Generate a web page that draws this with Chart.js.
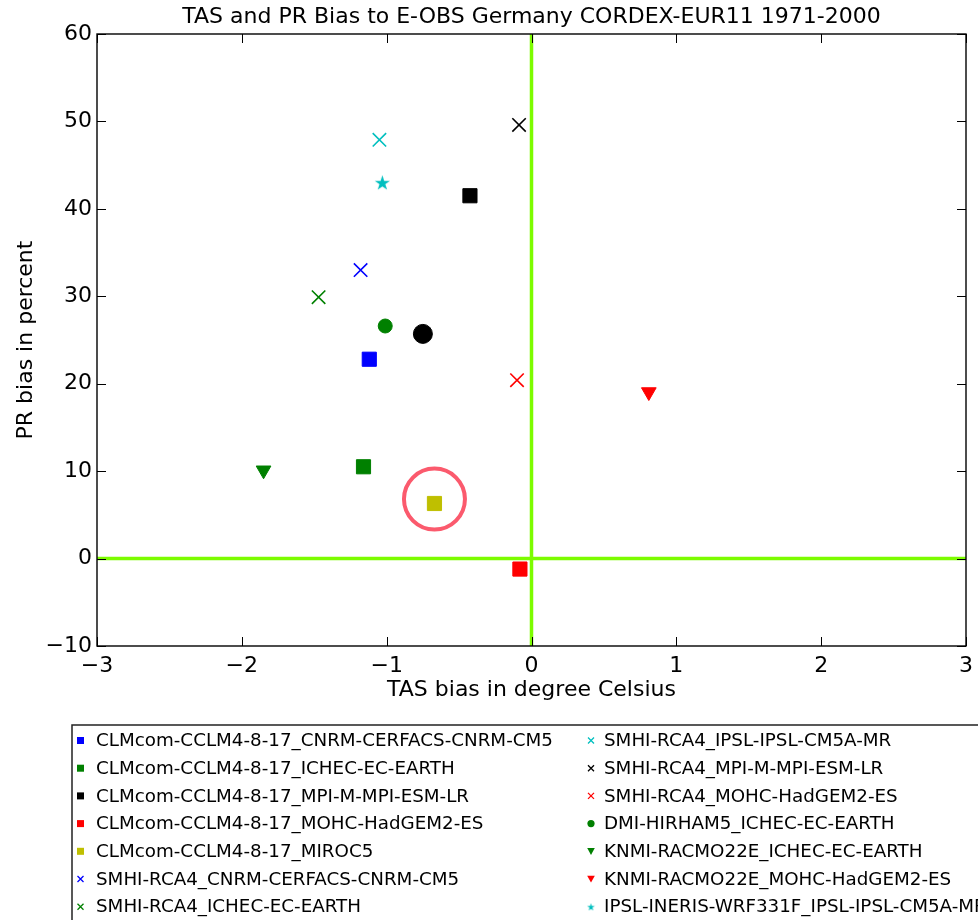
<!DOCTYPE html>
<html>
<head>
<meta charset="utf-8">
<title>TAS and PR Bias</title>
<script src="https://cdn.jsdelivr.net/npm/chart.js@4.4.1/dist/chart.umd.min.js"></script>
<style>
  html, body { margin: 0; padding: 0; background: #fff; }
  #wrap { width: 978px; height: 920px; }
</style>
</head>
<body>
<div id="wrap"><canvas id="biasChart" width="978" height="920"></canvas></div>
<script>
// ---------------------------------------------------------------
// model runs, bias values and marker styles
// ---------------------------------------------------------------
const modelNames = [
  'CLMcom-CCLM4-8-17_CNRM-CERFACS-CNRM-CM5',
  'CLMcom-CCLM4-8-17_ICHEC-EC-EARTH',
  'CLMcom-CCLM4-8-17_MPI-M-MPI-ESM-LR',
  'CLMcom-CCLM4-8-17_MOHC-HadGEM2-ES',
  'CLMcom-CCLM4-8-17_MIROC5',
  'SMHI-RCA4_CNRM-CERFACS-CNRM-CM5',
  'SMHI-RCA4_ICHEC-EC-EARTH',
  'SMHI-RCA4_IPSL-IPSL-CM5A-MR',
  'SMHI-RCA4_MPI-M-MPI-ESM-LR',
  'SMHI-RCA4_MOHC-HadGEM2-ES',
  'DMI-HIRHAM5_ICHEC-EC-EARTH',
  'KNMI-RACMO22E_ICHEC-EC-EARTH',
  'KNMI-RACMO22E_MOHC-HadGEM2-ES',
  'IPSL-INERIS-WRF331F_IPSL-IPSL-CM5A-MR'
];
const tasBias = [-1.12, -1.16, -0.425, -0.08, -0.67, -1.18, -1.47, -1.05, -0.086, -0.10, -1.01, -1.85, 0.81, -1.03];
const prBias  = [22.8, 10.5, 41.5, -1.2, 6.3, 33.0, 29.9, 47.9, 49.6, 20.4, 26.6, 10.1, 19.05, 43.0];
const modelColors = ['#0000ff', '#008000', '#000000', '#ff0000', '#bfbf00',
                     '#0000ff', '#008000', '#00bfbf', '#000000', '#ff0000',
                     '#008000', '#008000', '#ff0000', '#00bfbf'];
const modelMarkers = ['s', 's', 's', 's', 's', 'x', 'x', 'x', 'x', 'x', 'o', 'v', 'v', '*'];

// ensemble mean (big black dot)
const ensembleTas = -0.75;
const ensemblePr = 25.7;

// highlighted run (ring)
const highlightTas = -0.67;
const highlightPr = 6.8;

const xTicks = [-3, -2, -1, 0, 1, 2, 3];
const yTicks = [-10, 0, 10, 20, 30, 40, 50, 60];

const FONT = 'DejaVu Sans';

// filled 5-point star as a little canvas, used as a point style
function makeStar(size, color) {
  const c = document.createElement('canvas');
  c.width = size; c.height = size;
  const g = c.getContext('2d');
  const R = size / 2 - 0.5, r = R * 0.382, cx = size / 2, cy = size / 2 + 0.6;
  g.beginPath();
  for (let i = 0; i < 10; i++) {
    const a = -Math.PI / 2 + i * Math.PI / 5;
    const rr = i % 2 === 0 ? R : r;
    g.lineTo(cx + Math.cos(a) * rr, cy + Math.sin(a) * rr);
  }
  g.closePath();
  g.fillStyle = color;
  g.fill();
  return c;
}

function markerStyle(m, color) {
  switch (m) {
    case 's': return { pointStyle: 'rect', pointRadius: 10, borderWidth: 1 };
    case 'x': return { pointStyle: 'crossRot', pointRadius: 9.5, borderWidth: 1.6 };
    case 'o': return { pointStyle: 'circle', pointRadius: 7, borderWidth: 1 };
    case 'v': return { pointStyle: 'triangle', pointRadius: 8.5, borderWidth: 1, rotation: 180 };
    case '*': return { pointStyle: makeStar(17, color), pointRadius: 8, borderWidth: 0 };
  }
}

const datasets = modelNames.map((name, i) => {
  const st = markerStyle(modelMarkers[i], modelColors[i]);
  return {
    label: name,
    data: [{ x: tasBias[i], y: prBias[i] }],
    pointStyle: st.pointStyle,
    pointRadius: st.pointRadius,
    pointRotation: st.rotation || 0,
    pointBorderWidth: st.borderWidth,
    backgroundColor: modelColors[i],
    borderColor: modelColors[i]
  };
});

datasets.push({
  label: 'ensemble mean',
  data: [{ x: ensembleTas, y: ensemblePr }],
  pointStyle: 'circle',
  pointRadius: 9.5,
  pointBorderWidth: 1,
  backgroundColor: '#000000',
  borderColor: '#000000'
});

datasets.push({
  label: 'highlight',
  data: [{ x: highlightTas, y: highlightPr }],
  pointStyle: 'circle',
  pointRadius: 30.5,
  pointBorderWidth: 4,
  backgroundColor: 'rgba(0,0,0,0)',
  borderColor: '#fb5a6d'
});

const minus = v => String(v).replace('-', '\u2212');

// ---------------------------------------------------------------
// zero lines, framed axes with inward ticks, two-column legend
// ---------------------------------------------------------------
function drawLegendMarker(ctx, m, color, x, y) {
  ctx.save();
  ctx.fillStyle = color;
  ctx.strokeStyle = color;
  ctx.beginPath();
  if (m === 's') {
    ctx.fillRect(x - 3.5, y - 3.5, 7, 7);
  } else if (m === 'x') {
    ctx.lineWidth = 1.3;
    ctx.moveTo(x - 3, y - 3); ctx.lineTo(x + 3, y + 3);
    ctx.moveTo(x + 3, y - 3); ctx.lineTo(x - 3, y + 3);
    ctx.stroke();
  } else if (m === 'o') {
    ctx.arc(x, y, 3.6, 0, Math.PI * 2);
    ctx.fill();
  } else if (m === 'v') {
    ctx.moveTo(x - 3.8, y - 3.2); ctx.lineTo(x + 3.8, y - 3.2); ctx.lineTo(x, y + 3.6);
    ctx.closePath();
    ctx.fill();
  } else if (m === '*') {
    const s = makeStar(9, color);
    ctx.drawImage(s, x - 4.5, y - 4.5);
  }
  ctx.restore();
}

const framePlugin = {
  id: 'frame',
  beforeDatasetsDraw(chart) {
    const { ctx, chartArea: a, scales: { x, y } } = chart;
    ctx.save();
    ctx.strokeStyle = '#7cfc00';
    ctx.lineWidth = 3.5;
    const x0 = x.getPixelForValue(0), y0 = y.getPixelForValue(0);
    ctx.beginPath();
    ctx.moveTo(x0, a.top); ctx.lineTo(x0, a.bottom);
    ctx.moveTo(a.left, y0); ctx.lineTo(a.right, y0);
    ctx.stroke();
    ctx.restore();
  },
  afterDatasetsDraw(chart) {
    const { ctx, chartArea: a, scales: { x, y } } = chart;
    ctx.save();
    ctx.strokeStyle = '#000';
    ctx.lineWidth = 1;
    ctx.beginPath();
    xTicks.forEach(v => {
      const px = Math.round(x.getPixelForValue(v)) + 0.5;
      ctx.moveTo(px, a.bottom); ctx.lineTo(px, a.bottom - 9);
      ctx.moveTo(px, a.top); ctx.lineTo(px, a.top + 9);
    });
    yTicks.forEach(v => {
      const py = Math.round(y.getPixelForValue(v)) + 0.5;
      ctx.moveTo(a.left, py); ctx.lineTo(a.left + 9, py);
      ctx.moveTo(a.right, py); ctx.lineTo(a.right - 9, py);
    });
    ctx.stroke();
    ctx.lineWidth = 1.4;
    ctx.strokeRect(a.left, a.top, a.right - a.left, a.bottom - a.top);
    ctx.restore();
  },
  afterDraw(chart) {
    const ctx = chart.ctx;
    ctx.save();
    ctx.fillStyle = '#fff';
    ctx.fillRect(72, 725, 920, 210);
    ctx.strokeStyle = '#222';
    ctx.lineWidth = 1.5;
    ctx.strokeRect(72, 725, 920, 210);
    ctx.font = '18.3px "' + FONT + '"';
    ctx.textBaseline = 'middle';
    ctx.fillStyle = '#000';
    const perCol = 7;
    modelNames.forEach((name, i) => {
      const col = Math.floor(i / perCol), row = i % perCol;
      const rowY = 740.5 + row * 27.7;
      const mx = col === 0 ? 80.5 : 591;
      const tx = col === 0 ? 96 : 604;
      drawLegendMarker(ctx, modelMarkers[i], modelColors[i], mx, rowY);
      ctx.fillStyle = '#000';
      ctx.fillText(name, tx, rowY + 1);
    });
    ctx.restore();
  }
};

new Chart(document.getElementById('biasChart'), {
  type: 'scatter',
  data: { datasets },
  options: {
    responsive: false,
    animation: false,
    events: [],
    layout: { autoPadding: false, padding: { left: 0, right: 12, top: 0, bottom: 214 } },
    plugins: {
      legend: { display: false },
      tooltip: { enabled: false },
      title: {
        display: true,
        fullSize: false,
        text: 'TAS and PR Bias to E-OBS Germany CORDEX-EUR11 1971-2000',
        color: '#000',
        font: { family: FONT, size: 22, weight: 'normal', lineHeight: 1.2 },
        padding: { top: 4.5, bottom: 3.1 }
      }
    },
    scales: {
      x: {
        type: 'linear',
        min: -3, max: 3,
        afterBuildTicks: s => { s.ticks = xTicks.map(v => ({ value: v })); },
        afterFit: s => { s.height = 60; s.paddingLeft = 0; s.paddingRight = 0; },
        grid: { display: false, drawTicks: false },
        border: { display: false },
        ticks: {
          color: '#000', padding: 7,
          font: { family: FONT, size: 22 },
          callback: v => minus(v)
        },
        title: {
          display: true, text: 'TAS bias in degree Celsius', color: '#000',
          font: { family: FONT, size: 22 }, padding: { top: 0, bottom: 3 }
        }
      },
      y: {
        type: 'linear',
        min: -10, max: 60,
        afterBuildTicks: s => { s.ticks = yTicks.map(v => ({ value: v })); },
        afterFit: s => { s.width = 97; },
        grid: { display: false, drawTicks: false },
        border: { display: false },
        ticks: {
          color: '#000', padding: 5,
          font: { family: FONT, size: 22 },
          callback: v => minus(v)
        },
        title: {
          display: true, text: 'PR bias in percent', color: '#000',
          font: { family: FONT, size: 22 }, padding: { top: 13, bottom: 0 }
        }
      }
    }
  },
  plugins: [framePlugin]
});
</script>
</body>
</html>
